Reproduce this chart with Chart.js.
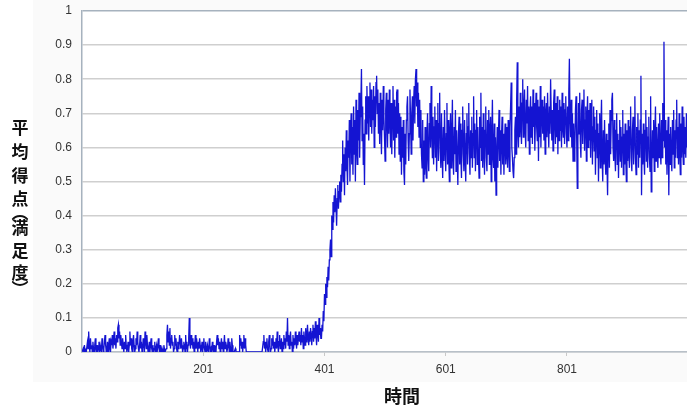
<!DOCTYPE html>
<html>
<head>
<meta charset="utf-8">
<script src="https://cdn.jsdelivr.net/npm/chart.js@4.4.1/dist/chart.umd.min.js"></script>
<style>
  html, body { margin: 0; padding: 0; background: #ffffff; }
  #wrap { width: 687px; height: 408px; position: relative; }
</style>
</head>
<body>
<div id="wrap"><canvas id="c" width="687" height="408"></canvas></div>
<script>
// Average score (satisfaction) per time step: idle phase, rise, plateau
const idlePhase = [
  0,0,0.01,0,0.02,0,0.01,0,0,0.03,0.01,0.06,0.02,0,0.04,0.01,0.02,0,0.03,0.01,
  0,0.02,0.04,0.01,0,0.02,0,0.01,0.03,0,0.02,0.01,0,0.04,0.02,0,0.01,0.03,0.05,0.02,
  0,0.01,0.03,0,0.02,0.04,0.01,0,0.03,0.02,0.05,0.01,0.03,0.06,0.02,0.04,0.01,0.05,0.03,0.07,
  0.08,0.04,0.06,0.02,0.05,0.03,0.01,0.04,0.02,0,0.03,0.01,0.05,0.02,0,0.01,0.03,0,0.02,0.06,
  0.02,0.04,0.01,0,0.03,0.05,0.02,0,0.01,0.04,0.02,0.06,0.03,0.01,0,0.02,0.05,0.01,0.03,0,
  0.01,0.04,0.02,0,0.06,0.03,0.01,0.05,0.02,0,0.01,0.03,0,0.02,0.04,0.01,0,0.02,0,0.01,
  0.03,0,0.01,0.02,0,0,0.04,0.01,0,0.02,0,0,0.01,0,0,0.02,0.01,0,0,0.01,
  0.05,0.08,0.03,0.06,0.02,0.07,0.01,0.04,0.05,0.02,0.03,0,0.01,0.05,0.02,0.04,0.01,0,0.03,0.01,
  0.02,0.05,0.03,0.01,0.04,0.02,0,0.01,0.03,0.02,0,0.05,0.01,0.03,0,0.02,0.04,0.1,0.03,0.01,
  0.05,0.02,0.04,0.01,0.03,0,0.02,0.05,0.01,0.04,0.02,0,0.03,0.01,0.04,0.02,0,0.01,0.03,0,
  0.02,0.04,0.01,0,0.03,0.01,0,0.02,0.01,0,0.04,0.02,0,0.01,0,0.03,0.01,0,0.02,0,
  0.01,0,0.03,0.05,0.02,0.04,0.01,0.03,0,0.02,0.04,0.01,0.03,0,0.02,0.05,0.01,0.03,0.02,0,
  0.01,0.04,0.02,0,0.03,0.01,0,0.04,0.02,0,0,0,0,0.01,0,0,0,0,0,0,
  0.05,0.02,0.04,0.01,0.03,0,0.02,0.05,0.01,0.04,0.02,0,0,0,0,0,0,0,0,0,
  0,0,0,0,0,0,0,0,0,0,0,0,0,0,0,0,0,0,0,0.03,
  0.05,0.01,0.03,0,0.02,0.04,0.01,0,0.03,0.05,0.02,0,0.01,0.04,0.02,0.05,0.01,0.03,0,0.02,
  0.04,0.01,0.06,0.02,0,0.03,0.05,0.01,0.02,0.04,0,0.03,0.01,0.05,0.02,0.04,0.01,0.06,0.03,0.1,
  0.02,0.05,0.01,0.04,0.06,0.02,0.03,0,0.05,0.01,0.04,0.02,0.06,0.03,0.01,0.05,0.02,0.04,0.06,0.03,
  0.05,0.02,0.07,0.03,0.05,0.01,0.06,0.04,0.02,0.07,0.03,0.05,0.08,0.04,0.02,0.06,0.03,0.07,0.05,0.02,
  0.06,0.08,0.03,0.07,0.04,0.09,0.05,0.02,0.08,0.06,0.03,0.1,0.05,0.07,0.04
];

const risePhase = [
  0.04,0.08,0.06,0.12,0.09,0.17,0.14,0.2,0.16,0.22,0.19,0.25,0.21,0.27,0.3,
  0.33,0.28,0.4,0.36,0.44,0.38,0.46,0.41,0.48,0.43,0.37,0.45,0.49,0.42,0.47,
  0.5,0.44,0.52,0.47,0.55,0.62,0.5,0.58,0.46,0.6,0.53,0.65,0.55,0.49,0.62
];

const plateauPhase = [
  0.57,0.68,0.5,0.64,0.7,0.55,0.66,0.52,0.72,0.58,0.68,0.5,0.74,0.6,0.55,0.71,0.62,0.76,0.57,0.69,
  0.73,0.83,0.62,0.72,0.55,0.64,0.49,0.68,0.75,0.64,0.78,0.67,0.75,0.62,0.73,0.79,0.66,0.77,0.64,0.74,
  0.68,0.78,0.6,0.75,0.66,0.79,0.81,0.7,0.77,0.64,0.73,0.61,0.76,0.68,0.58,0.74,0.65,0.78,0.69,0.63,
  0.56,0.71,0.76,0.66,0.6,0.74,0.64,0.77,0.68,0.6,0.73,0.58,0.7,0.78,0.62,0.74,0.57,0.72,0.63,0.76,
  0.77,0.64,0.73,0.58,0.7,0.56,0.69,0.52,0.66,0.57,0.68,0.53,0.49,0.64,0.55,0.68,0.72,0.75,0.62,0.56,
  0.64,0.77,0.68,0.58,0.7,0.75,0.62,0.73,0.78,0.67,0.8,0.83,0.72,0.79,0.66,0.76,0.63,0.74,0.6,0.71,
  0.58,0.54,0.68,0.5,0.62,0.52,0.66,0.55,0.51,0.64,0.7,0.57,0.53,0.67,0.73,0.6,0.78,0.65,0.57,0.69,
  0.55,0.66,0.72,0.57,0.68,0.53,0.65,0.73,0.56,0.67,0.76,0.59,0.54,0.7,0.58,0.51,0.66,0.56,0.71,0.6,
  0.53,0.64,0.73,0.55,0.68,0.57,0.5,0.65,0.7,0.54,0.63,0.74,0.57,0.52,0.66,0.58,0.71,0.53,0.65,0.57,
  0.49,0.64,0.69,0.55,0.67,0.57,0.51,0.65,0.72,0.58,0.53,0.68,0.57,0.5,0.64,0.7,0.55,0.66,0.73,0.58,
  0.52,0.65,0.57,0.69,0.54,0.64,0.75,0.57,0.67,0.53,0.65,0.71,0.55,0.66,0.58,0.51,0.69,0.6,0.76,0.56,
  0.66,0.54,0.7,0.59,0.52,0.65,0.72,0.57,0.53,0.68,0.58,0.71,0.55,0.65,0.69,0.5,0.63,0.74,0.57,0.54,
  0.67,0.5,0.63,0.46,0.58,0.66,0.54,0.64,0.71,0.56,0.65,0.52,0.63,0.69,0.55,0.64,0.52,0.61,0.67,0.55,
  0.58,0.66,0.54,0.68,0.6,0.53,0.66,0.72,0.79,0.6,0.57,0.53,0.51,0.57,0.65,0.69,0.58,0.74,0.85,0.64,
  0.6,0.72,0.63,0.76,0.66,0.61,0.73,0.8,0.63,0.71,0.77,0.65,0.6,0.74,0.67,0.78,0.62,0.72,0.58,0.7,
  0.75,0.63,0.72,0.61,0.77,0.66,0.73,0.59,0.69,0.76,0.66,0.62,0.74,0.56,0.72,0.63,0.78,0.6,0.71,0.74,
  0.64,0.72,0.62,0.75,0.58,0.7,0.73,0.63,0.76,0.67,0.6,0.72,0.64,0.8,0.7,0.62,0.71,0.59,0.73,0.77,
  0.66,0.61,0.73,0.63,0.75,0.58,0.71,0.62,0.74,0.65,0.72,0.6,0.76,0.66,0.63,0.73,0.61,0.71,0.75,0.64,
  0.6,0.72,0.62,0.76,0.86,0.68,0.63,0.74,0.6,0.7,0.56,0.67,0.56,0.6,0.71,0.75,0.63,0.48,0.62,0.73,
  0.64,0.76,0.62,0.57,0.71,0.74,0.61,0.7,0.77,0.59,0.68,0.72,0.56,0.69,0.75,0.6,0.71,0.62,0.73,0.57,
  0.68,0.74,0.55,0.66,0.72,0.59,0.69,0.52,0.65,0.71,0.57,0.67,0.5,0.64,0.7,0.54,0.66,0.74,0.57,0.5,
  0.65,0.55,0.68,0.57,0.52,0.64,0.55,0.46,0.62,0.67,0.54,0.71,0.58,0.68,0.74,0.76,0.6,0.56,0.68,0.58,
  0.53,0.65,0.7,0.55,0.64,0.51,0.62,0.68,0.56,0.66,0.54,0.63,0.71,0.52,0.64,0.55,0.67,0.57,0.5,0.65,
  0.56,0.68,0.58,0.54,0.66,0.72,0.57,0.53,0.65,0.69,0.55,0.64,0.75,0.57,0.52,0.66,0.58,0.7,0.54,0.65,
  0.57,0.68,0.81,0.46,0.64,0.55,0.67,0.57,0.52,0.65,0.71,0.56,0.66,0.54,0.63,0.69,0.57,0.53,0.75,0.47,
  0.55,0.65,0.57,0.68,0.53,0.64,0.72,0.56,0.66,0.58,0.54,0.67,0.57,0.7,0.59,0.55,0.68,0.57,0.73,0.62,
  0.91,0.6,0.68,0.55,0.65,0.52,0.62,0.69,0.46,0.64,0.55,0.66,0.57,0.53,0.68,0.58,0.71,0.54,0.65,0.57,
  0.68,0.74,0.57,0.66,0.55,0.7,0.59,0.52,0.67,0.57,0.72,0.6,0.55,0.69,0.58,0.66,0.57,0.7,0.6,0.68
];

const scores = idlePhase.concat(risePhase, plateauPhase);
// Time steps 1..N
const timeSteps = scores.map((_, i) => i + 1);
const xTickValues = [201, 401, 601, 801];
const yTickStep = 0.1;
const xTitle = '時間';
const yTitleChars = ['平', '均', '得', '点', '︵', '満', '足', '度', '︶'];

const FONT = '"Liberation Sans", Arial, sans-serif';
const CJK = '"Noto Sans CJK JP", "Noto Sans CJK SC", sans-serif';

// Light panel behind the chart, white plot area
const panelPlugin = {
  id: 'panel',
  beforeDraw(chart) {
    const { ctx, chartArea: a } = chart;
    ctx.save();
    ctx.fillStyle = '#fafafa';
    ctx.fillRect(33, 0, 687 - 33, 382);
    ctx.fillStyle = '#ffffff';
    ctx.fillRect(a.left, a.top, a.right - a.left, a.bottom - a.top);
    ctx.restore();
  }
};

// Axis titles: horizontal x title, stacked vertical y title
const titlesPlugin = {
  id: 'titles',
  afterDraw(chart) {
    const { ctx, chartArea: a } = chart;
    ctx.save();
    ctx.fillStyle = '#111111';
    ctx.textAlign = 'center';
    ctx.textBaseline = 'middle';
    ctx.font = 'bold 18px ' + CJK;
    ctx.fillText(xTitle, a.left + 320, 396);
    ctx.font = 'bold 17px ' + CJK;
    const ys = [128, 152, 176, 199, 213, 228, 251, 273, 289];
    yTitleChars.forEach((ch, i) => ctx.fillText(ch, 20, ys[i]));
    ctx.restore();
  }
};

new Chart(document.getElementById('c'), {
  type: 'line',
  data: {
    labels: timeSteps,
    datasets: [{
      data: scores,
      borderColor: '#1414d2',
      borderWidth: 1.3,
      pointRadius: 0,
      tension: 0,
      fill: false
    }]
  },
  options: {
    responsive: false,
    animation: false,
    events: [],
    layout: { padding: { left: 0, top: 11, right: 0, bottom: 0 } },
    plugins: { legend: { display: false }, tooltip: { enabled: false } },
    scales: {
      x: {
        type: 'linear',
        min: 1,
        max: 999,
        afterBuildTicks(axis) { axis.ticks = xTickValues.map(v => ({ value: v })); },
        afterFit(axis) { axis.height = 56; axis.paddingLeft = 0; axis.paddingRight = 0; },
        grid: { drawOnChartArea: false, drawTicks: true, tickLength: 4, color: '#c8c8c8' },
        border: { display: true, color: '#b8c0c8', width: 1.5 },
        ticks: { padding: 6, color: '#333333', font: { family: FONT, size: 12 }, maxRotation: 0,
                 callback: v => String(v) }
      },
      y: {
        min: 0,
        max: 1,
        afterFit(axis) { axis.width = 82; axis.paddingTop = 0; axis.paddingBottom = 0; },
        ticks: { stepSize: yTickStep, padding: 10, color: '#333333', font: { family: FONT, size: 12 },
                 callback: v => String(Math.round(v * 10) / 10) },
        grid: { color: c => c.tick.value === 1 ? '#a6b2be' : '#cfcfcf', lineWidth: 1.5, drawTicks: false },
        border: { display: true, color: '#a6b2be', width: 1.5 }
      }
    }
  },
  plugins: [panelPlugin, titlesPlugin]
});
</script>
</body>
</html>
